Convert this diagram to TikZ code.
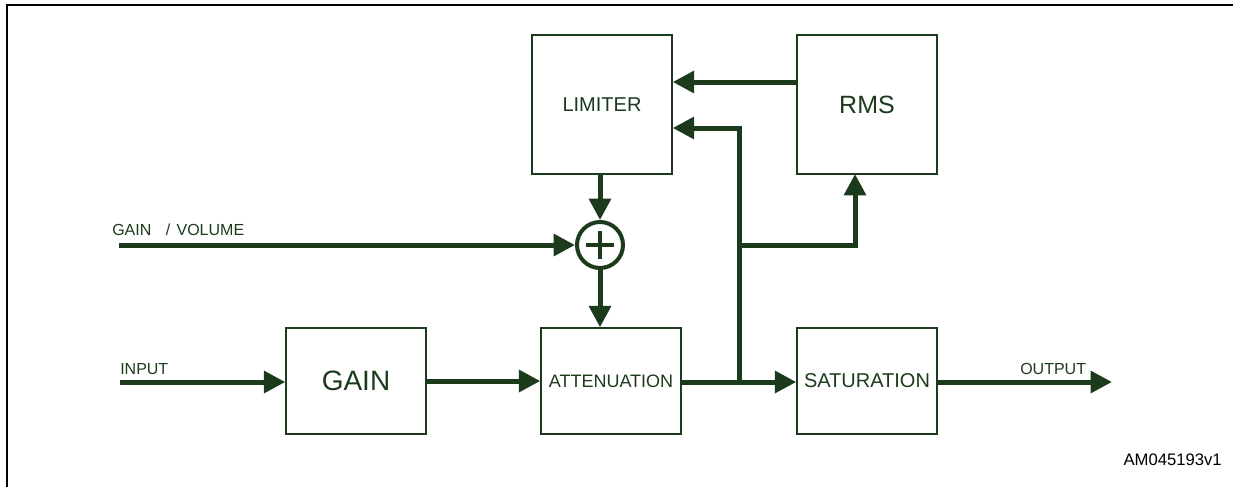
\documentclass[tikz,border=0pt]{standalone}
\usepackage{fontspec}
\setmainfont{Liberation Sans}
\usetikzlibrary{arrows.meta}
\definecolor{dg}{RGB}{28,58,28}
\begin{document}
\begin{tikzpicture}[x=0.75pt,y=-0.75pt,
  box/.style={draw=dg, line width=1.1pt, minimum width=105pt, inner sep=0pt, text=dg},
  tallbox/.style={box, minimum height=104.25pt},
  lowbox/.style={box, minimum height=79.5pt},
  flow/.style={draw=dg, line width=3.75pt, -{Triangle[length=16pt,width=16pt]}},
  wire/.style={draw=dg, line width=3.75pt},
  lbl/.style={text=dg, inner sep=0pt, font=\fontsize{12}{14}\selectfont}]
\useasboundingbox (0,0) rectangle (1233,487);
\draw[line width=1.5pt, black] (7,487) -- (7,5) -- (1233,5);

% blocks
\node[tallbox, font=\fontsize{15}{18}\selectfont] (lim) at (602,104.5) {LIMITER};
\node[tallbox, font=\fontsize{18.75}{22}\selectfont] (rms) at (867,104.5) {RMS};
\node[lowbox, font=\fontsize{21}{25}\selectfont] (gain) at (356,381) {GAIN};
\node[lowbox, font=\fontsize{13.5}{16}\selectfont] (att) at (611,381) {ATTENUATION};
\node[lowbox, font=\fontsize{15}{18}\selectfont] (sat) at (867,381) {SATURATION};
\node[circle, draw=dg, line width=3pt, minimum size=34.5pt, inner sep=0pt] (sum) at (600,245) {};
\draw[dg, line width=3pt] ([xshift=-10.5pt]sum.center) -- ([xshift=10.5pt]sum.center);
\draw[dg, line width=3pt] ([yshift=-10.5pt]sum.center) -- ([yshift=10.5pt]sum.center);

% free ends
\coordinate (gv) at (119,245);
\coordinate (in) at (120,382);
\coordinate (out) at (1112,382);
\coordinate (j) at (739,382);
\coordinate (jtop) at (739,128);
\coordinate (jmid) at (739,245);
\coordinate (rmsin) at (855,174);

% labels
\node[lbl, anchor=base west] (lgv) at (112,235) {GAIN\hspace{0.9em}/\hspace{0.4em}VOLUME};
\node[lbl, anchor=base west] (lin) at (120,374) {INPUT};
\node[lbl, anchor=base west] (lout) at (1020,374) {OUTPUT};
\node[inner sep=0pt, anchor=base east, font=\fontsize{12.5}{15}\selectfont] (code) at (1222,465) {AM045193v1};

% connectors
\draw[flow] (rms.west |- 0,82) -- (lim.east |- 0,82);
\draw[flow] (j) -- (jtop) -- (lim.east |- jtop);
\draw[flow] (jmid) -| (rmsin);
\draw[flow] (sum |- lim.south) -- (sum.north);
\draw[flow] (gv) -- (sum.west);
\draw[flow] (sum.south) -- (sum |- att.north);
\draw[flow] (in) -- (gain.west |- in);
\draw[flow] (gain.east) -- (att.west);
\draw[flow] (att.east |- j) -- (sat.west |- j);
\draw[flow] (sat.east |- out) -- (out);
\end{tikzpicture}
\end{document}
